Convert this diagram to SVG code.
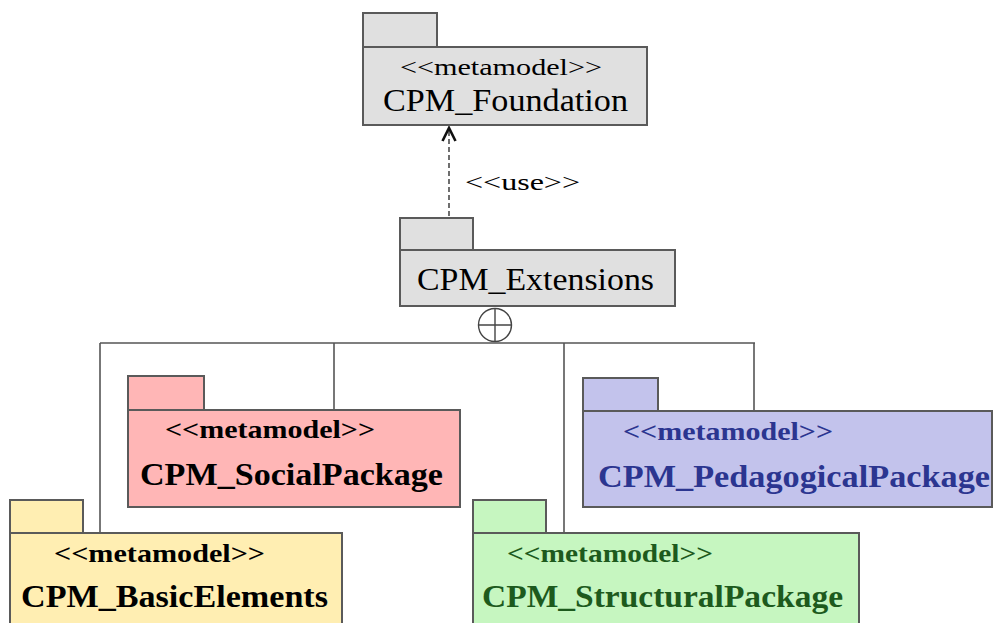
<svg xmlns="http://www.w3.org/2000/svg" width="995" height="623" viewBox="0 0 995 623">
<style>
.pk{stroke:#5a5a5a;stroke-width:2}
.g{fill:#e0e0e0}.r{fill:#ffb6b6}.b{fill:#c3c3ec}.y{fill:#ffeeb2}.gr{fill:#c6f6c0}
text{font-family:"Liberation Serif","Times New Roman",serif}
.st{font-size:24px}.nm{font-size:31px}
.sb{font-size:25px;font-weight:bold}.nb{font-size:32px;font-weight:bold}
.ln{stroke:#555;stroke-width:1.6;fill:none}
</style>
<rect width="995" height="623" fill="#fff"/>
<g id="connectors">
<line x1="449" y1="131" x2="449" y2="218" stroke="#222" stroke-width="1.3" stroke-dasharray="5,3"/>
<path d="M442.5,141 L449,128 L455.5,141" fill="none" stroke="#111" stroke-width="2.6"/>
<text x="465" y="190" class="st" textLength="115" lengthAdjust="spacingAndGlyphs">&lt;&lt;use&gt;&gt;</text>
<circle cx="495" cy="325" r="16.5" fill="#fff" stroke="#444" stroke-width="1.4"/>
<line x1="478.5" y1="325" x2="511.5" y2="325" stroke="#444" stroke-width="1.4"/>
<line x1="495" y1="308.5" x2="495" y2="341.5" stroke="#444" stroke-width="1.4"/>
<line class="ln" x1="100" y1="343" x2="755" y2="343"/>
<line class="ln" x1="100" y1="343" x2="100" y2="533"/>
<line class="ln" x1="334" y1="343" x2="334" y2="410"/>
<line class="ln" x1="564" y1="343" x2="564" y2="533"/>
<line class="ln" x1="754" y1="343" x2="754" y2="411"/>
</g>
<g id="foundation">
<rect class="pk g" x="363" y="13" width="74" height="34"/>
<rect class="pk g" x="363" y="47" width="284" height="78"/>
<text x="400" y="75" class="st" textLength="202" lengthAdjust="spacingAndGlyphs">&lt;&lt;metamodel&gt;&gt;</text>
<text x="383" y="111" class="nm" textLength="245" lengthAdjust="spacingAndGlyphs">CPM_Foundation</text>
</g>
<g id="extensions">
<rect class="pk g" x="400" y="218" width="73" height="32"/>
<rect class="pk g" x="400" y="250" width="275" height="56"/>
<text x="417" y="290" class="nm" textLength="237" lengthAdjust="spacingAndGlyphs">CPM_Extensions</text>
</g>
<g id="social">
<rect class="pk r" x="128" y="376" width="76" height="34"/>
<rect class="pk r" x="128" y="410" width="332" height="97"/>
<text x="165" y="438" class="sb" textLength="210" lengthAdjust="spacingAndGlyphs">&lt;&lt;metamodel&gt;&gt;</text>
<text x="140" y="485" class="nb" textLength="303" lengthAdjust="spacingAndGlyphs">CPM_SocialPackage</text>
</g>
<g id="pedagogical">
<rect class="pk b" x="583" y="378" width="75" height="33"/>
<rect class="pk b" x="583" y="411" width="409" height="96"/>
<text x="623" y="440" class="sb" fill="#2b3590" textLength="210" lengthAdjust="spacingAndGlyphs">&lt;&lt;metamodel&gt;&gt;</text>
<text x="598" y="487" class="nb" fill="#2b3590" textLength="392" lengthAdjust="spacingAndGlyphs">CPM_PedagogicalPackage</text>
</g>
<g id="basic">
<rect class="pk y" x="10" y="500" width="73" height="33"/>
<rect class="pk y" x="10" y="533" width="332" height="100"/>
<text x="54" y="562" class="sb" textLength="211" lengthAdjust="spacingAndGlyphs">&lt;&lt;metamodel&gt;&gt;</text>
<text x="21" y="607" class="nb" textLength="307" lengthAdjust="spacingAndGlyphs">CPM_BasicElements</text>
</g>
<g id="structural">
<rect class="pk gr" x="473" y="500" width="73" height="33"/>
<rect class="pk gr" x="473" y="533" width="386" height="100"/>
<text x="507" y="562" class="sb" fill="#1d5a1d" textLength="206" lengthAdjust="spacingAndGlyphs">&lt;&lt;metamodel&gt;&gt;</text>
<text x="482" y="607" class="nb" fill="#1d5a1d" textLength="361" lengthAdjust="spacingAndGlyphs">CPM_StructuralPackage</text>
</g>
</svg>
